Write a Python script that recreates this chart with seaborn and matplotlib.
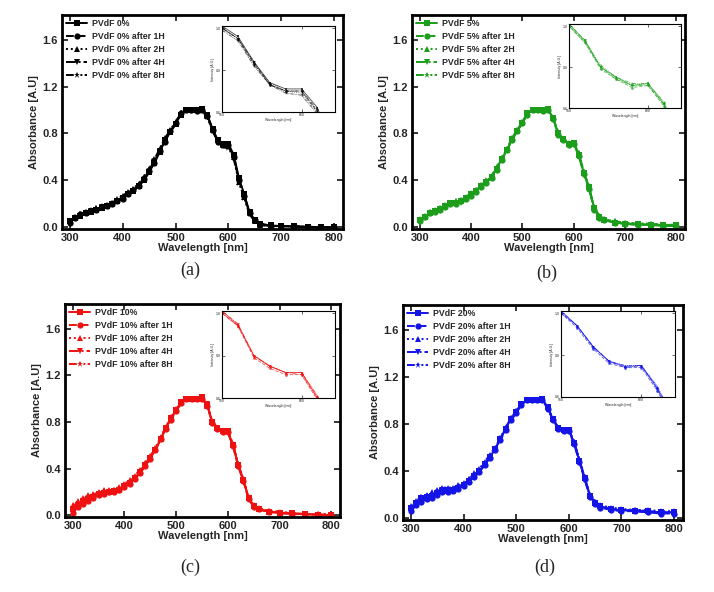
import matplotlib
matplotlib.use('Agg')
import matplotlib.pyplot as plt
import pandas as pd
import seaborn as sns

sns.set_theme(style='ticks')
plt.rcParams['font.family'] = ['Liberation Sans', 'DejaVu Sans']

wavelength = [300, 310, 320, 330, 340, 350, 360, 370, 380, 390, 400, 410, 420, 430, 440,
              450, 460, 470, 480, 490, 500, 510, 520, 530, 540, 550, 560, 570, 580, 590,
              600, 610, 620, 630, 640, 650, 660, 680, 700, 725, 750, 775, 800]

series_suffix = ['', ' after 1H', ' after 2H', ' after 4H', ' after 8H']
panel_letters = ['(a)', '(b)', '(c)', '(d)']
pvdf_levels = ['0%', '5%', '10%', '20%']
panel_colors = ['#000000', '#1c9e1c', '#ee1111', '#1414e6']

a0 = [0.05,0.08,0.10,0.12,0.13,0.15,0.165,0.18,0.20,0.22,0.25,0.28,0.31,0.35,0.40,0.47,0.55,0.64,0.74,0.81,0.88,0.96,1.00,1.00,1.00,1.01,0.96,0.84,0.74,0.71,0.71,0.62,0.42,0.28,0.13,0.06,0.03,0.015,0.01,0.01,0.005,0.0,0.0]
a1 = [0.04,0.08,0.11,0.12,0.14,0.15,0.17,0.18,0.20,0.22,0.24,0.28,0.32,0.35,0.41,0.48,0.55,0.65,0.73,0.82,0.89,0.97,1.00,1.00,0.99,1.00,0.95,0.83,0.73,0.70,0.70,0.60,0.40,0.27,0.12,0.06,0.03,0.01,0.01,0.01,0.0,0.0,0.0]
a2 = [0.05,0.09,0.11,0.13,0.14,0.16,0.17,0.19,0.21,0.23,0.26,0.29,0.32,0.36,0.42,0.49,0.57,0.66,0.75,0.82,0.89,0.97,1.00,1.00,1.00,1.00,0.95,0.83,0.74,0.70,0.69,0.60,0.39,0.26,0.12,0.05,0.02,0.01,0.01,0.0,0.0,0.0,0.0]
a3 = [0.04,0.08,0.10,0.12,0.14,0.15,0.17,0.18,0.20,0.22,0.25,0.28,0.31,0.35,0.40,0.47,0.56,0.65,0.74,0.81,0.88,0.96,1.00,0.99,1.00,1.00,0.95,0.84,0.73,0.70,0.70,0.61,0.41,0.27,0.12,0.05,0.03,0.01,0.01,0.01,0.0,0.0,0.0]
a4 = [0.05,0.09,0.11,0.13,0.15,0.16,0.18,0.19,0.21,0.24,0.27,0.30,0.33,0.37,0.43,0.50,0.58,0.67,0.76,0.83,0.90,0.97,1.00,1.00,1.00,0.99,0.94,0.82,0.73,0.69,0.68,0.59,0.38,0.25,0.11,0.05,0.02,0.01,0.01,0.0,0.0,0.0,0.0]

b0 = [0.065,0.09,0.12,0.14,0.155,0.18,0.21,0.21,0.22,0.25,0.28,0.31,0.35,0.39,0.43,0.50,0.58,0.66,0.75,0.82,0.89,0.97,1.00,1.00,1.00,1.01,0.93,0.80,0.75,0.71,0.72,0.62,0.46,0.34,0.16,0.09,0.065,0.04,0.03,0.03,0.02,0.02,0.02]
b1 = [0.05,0.09,0.12,0.13,0.15,0.17,0.20,0.20,0.22,0.24,0.27,0.30,0.34,0.38,0.42,0.49,0.57,0.66,0.74,0.82,0.89,0.96,1.00,1.00,0.99,1.00,0.92,0.79,0.74,0.70,0.71,0.61,0.45,0.33,0.15,0.08,0.06,0.04,0.03,0.02,0.02,0.01,0.01]
b2 = [0.07,0.10,0.13,0.15,0.16,0.19,0.21,0.22,0.23,0.26,0.29,0.32,0.36,0.40,0.44,0.51,0.59,0.67,0.76,0.83,0.90,0.97,1.00,1.00,1.00,1.00,0.93,0.81,0.75,0.71,0.72,0.63,0.47,0.35,0.17,0.10,0.07,0.05,0.04,0.03,0.03,0.02,0.02]
b3 = [0.04,0.08,0.11,0.13,0.15,0.17,0.20,0.21,0.21,0.24,0.27,0.31,0.35,0.38,0.43,0.50,0.58,0.66,0.75,0.82,0.89,0.97,1.00,1.00,1.00,1.01,0.93,0.80,0.74,0.71,0.71,0.62,0.46,0.33,0.16,0.09,0.06,0.04,0.03,0.02,0.02,0.02,0.01]
b4 = [0.06,0.10,0.13,0.14,0.16,0.18,0.21,0.22,0.23,0.25,0.28,0.32,0.36,0.39,0.44,0.51,0.59,0.67,0.76,0.83,0.90,0.97,1.00,1.00,1.00,1.00,0.92,0.80,0.75,0.72,0.72,0.63,0.47,0.34,0.17,0.10,0.07,0.05,0.04,0.03,0.03,0.02,0.02]

c0 = [0.05,0.09,0.12,0.14,0.16,0.18,0.19,0.20,0.205,0.22,0.25,0.28,0.32,0.37,0.43,0.49,0.56,0.65,0.75,0.83,0.90,0.97,1.00,1.00,1.00,1.01,0.945,0.80,0.75,0.72,0.72,0.60,0.43,0.30,0.15,0.077,0.05,0.03,0.02,0.015,0.01,0.005,0.0]
c1 = [0.02,0.07,0.10,0.12,0.15,0.17,0.18,0.20,0.20,0.22,0.24,0.27,0.31,0.36,0.42,0.48,0.56,0.65,0.74,0.82,0.89,0.96,1.00,1.00,1.00,1.00,0.94,0.79,0.74,0.71,0.71,0.59,0.42,0.29,0.14,0.07,0.05,0.03,0.02,0.01,0.01,0.0,0.0]
c2 = [0.09,0.12,0.15,0.17,0.18,0.20,0.22,0.22,0.22,0.24,0.27,0.30,0.34,0.39,0.45,0.51,0.58,0.67,0.76,0.84,0.91,0.97,1.00,1.00,1.00,1.00,0.94,0.80,0.75,0.72,0.72,0.61,0.44,0.31,0.16,0.09,0.06,0.04,0.03,0.02,0.01,0.01,0.01]
c3 = [0.04,0.08,0.11,0.13,0.15,0.17,0.18,0.19,0.20,0.21,0.24,0.28,0.32,0.36,0.42,0.49,0.56,0.65,0.74,0.83,0.90,0.97,1.00,1.00,1.00,1.01,0.95,0.80,0.75,0.72,0.71,0.60,0.43,0.30,0.15,0.08,0.05,0.03,0.02,0.01,0.01,0.0,0.0]
c4 = [0.07,0.11,0.14,0.16,0.17,0.19,0.21,0.21,0.22,0.23,0.26,0.29,0.33,0.38,0.44,0.50,0.57,0.66,0.75,0.83,0.90,0.97,1.00,1.00,1.00,1.00,0.94,0.80,0.75,0.72,0.72,0.61,0.44,0.31,0.15,0.08,0.05,0.04,0.02,0.02,0.01,0.01,0.0]

d0 = [0.085,0.13,0.17,0.18,0.185,0.21,0.23,0.235,0.24,0.26,0.285,0.32,0.36,0.40,0.46,0.52,0.585,0.67,0.76,0.84,0.90,0.97,1.005,1.00,1.00,1.01,0.94,0.84,0.77,0.745,0.75,0.64,0.49,0.34,0.19,0.13,0.10,0.075,0.07,0.065,0.06,0.05,0.05]
d1 = [0.06,0.11,0.14,0.16,0.17,0.20,0.22,0.22,0.23,0.25,0.27,0.31,0.35,0.39,0.45,0.51,0.58,0.66,0.75,0.83,0.89,0.96,1.00,1.00,1.00,1.00,0.93,0.83,0.76,0.74,0.74,0.63,0.48,0.33,0.18,0.12,0.09,0.07,0.06,0.06,0.05,0.04,0.04]
d2 = [0.10,0.15,0.18,0.20,0.22,0.24,0.26,0.26,0.26,0.28,0.30,0.33,0.38,0.42,0.48,0.54,0.60,0.68,0.77,0.85,0.91,0.97,1.00,1.00,1.00,1.00,0.94,0.84,0.77,0.75,0.75,0.65,0.50,0.35,0.20,0.14,0.11,0.09,0.08,0.07,0.07,0.06,0.06]
d3 = [0.07,0.12,0.16,0.17,0.18,0.21,0.24,0.24,0.23,0.25,0.28,0.32,0.35,0.39,0.45,0.52,0.59,0.67,0.76,0.84,0.90,0.97,1.00,1.00,1.00,1.01,0.94,0.84,0.77,0.74,0.75,0.64,0.49,0.34,0.19,0.13,0.10,0.08,0.07,0.06,0.05,0.05,0.04]
d4 = [0.09,0.14,0.18,0.19,0.20,0.23,0.25,0.25,0.25,0.27,0.29,0.33,0.37,0.41,0.47,0.53,0.59,0.68,0.77,0.85,0.91,0.97,1.00,1.00,1.00,1.00,0.94,0.84,0.77,0.75,0.75,0.65,0.50,0.35,0.20,0.14,0.10,0.08,0.07,0.07,0.06,0.05,0.05]

panel_series = [[a0, a1, a2, a3, a4], [b0, b1, b2, b3, b4],
                [c0, c1, c2, c3, c4], [d0, d1, d2, d3, d4]]

x_ticks = [300, 400, 500, 600, 700, 800]
y_ticks = [0.0, 0.4, 0.8, 1.2, 1.6]
y_tick_labels = ['0.0', '0.4', '0.8', '1.2', '1.6']

W, H = 714, 592
def rect(l, t, r, b):
    return [l / W, 1 - b / H, (r - l) / W, (b - t) / H]

main_boxes = [(62, 15, 343, 229), (412, 15, 685, 229), (65, 304, 340, 517), (403, 305, 683, 520)]
inset_boxes = [(222, 26, 335, 112), (569, 24, 681, 108), (222, 311, 335, 398), (561, 311, 675, 397)]
caption_pos = [(190, 270), (547, 273), (190, 567), (545, 567)]

markers = ['s', 'o', '^', 'v', '*']
dashes = ['', (4, 2), (1, 1.5), (5, 1.5, 1, 1.5), (4, 1.2, 1, 1.2, 1, 1.2)]

fig = plt.figure(figsize=(7.14, 5.92), dpi=100)
fig.patch.set_facecolor('white')

for i in range(4):
    color = panel_colors[i]
    names = ['PVdF ' + pvdf_levels[i] + s for s in series_suffix]
    frames = []
    for name, vals in zip(names, panel_series[i]):
        assert len(vals) == len(wavelength)
        frames.append(pd.DataFrame({'wl': wavelength, 'A': vals, 'series': name}))
    df = pd.concat(frames, ignore_index=True)

    ax = fig.add_axes(rect(*main_boxes[i]))
    sns.lineplot(data=df, x='wl', y='A', style='series', markers=markers, dashes=dashes,
                 color=color, linewidth=1.4, markersize=4.5, markeredgewidth=0,
                 estimator=None, sort=False, ax=ax)
    ax.set_xlim(285, 817)
    ax.set_ylim(-0.015, 1.81)
    ax.set_xticks(x_ticks)
    ax.set_xticklabels([str(v) for v in x_ticks])
    ax.set_yticks(y_ticks)
    ax.set_yticklabels(y_tick_labels)
    ax.tick_params(direction='in', length=4, width=1.3, top=True, right=True,
                   labelsize=8, pad=3)
    for lab in ax.get_xticklabels() + ax.get_yticklabels():
        lab.set_fontweight('bold')
    for sp in ax.spines.values():
        sp.set_linewidth(2)
        sp.set_color('black')
    ax.set_xlabel('Wavelength [nm]', fontsize=8, fontweight='bold', labelpad=0)
    ax.set_ylabel('Absorbance [A.U]', fontsize=8, fontweight='bold', labelpad=2)
    handles, labels = ax.get_legend_handles_labels()
    ax.legend(handles, labels, loc='upper left', frameon=False,
              prop={'size': 6.3, 'weight': 'bold'}, handlelength=2.4,
              handletextpad=0.5, labelspacing=0.45, borderaxespad=0.3,
              borderpad=0.2)

    ins = fig.add_axes(rect(*inset_boxes[i]))
    sns.lineplot(data=df, x='wl', y='A', style='series', markers=markers, dashes=dashes,
                 color=color, linewidth=0.6, markersize=2, markeredgewidth=0, alpha=0.7,
                 estimator=None, sort=False, ax=ins, legend=False)
    ins.set_xlim(550, 621)
    ins.set_ylim(0.6, 1.01)
    ins.set_xticks([550, 600])
    ins.set_yticks([0.6, 0.8, 1.0])
    ins.tick_params(direction='in', length=2, width=0.5, top=True, right=True,
                    labelsize=2.5, pad=1)
    for sp in ins.spines.values():
        sp.set_linewidth(0.8)
        sp.set_color('black')
    ins.set_xlabel('Wavelength [nm]', fontsize=2.5, labelpad=0.5)
    ins.set_ylabel('Intensity [A.U.]', fontsize=2.5, labelpad=0.5)
    ins.set_facecolor('white')

    cx, cy = caption_pos[i]
    fig.text(cx / W, 1 - cy / H, panel_letters[i], ha='center', va='center',
             fontsize=13, family=['Liberation Serif', 'DejaVu Serif'])

fig.savefig('out.png', dpi=100, facecolor='white')
